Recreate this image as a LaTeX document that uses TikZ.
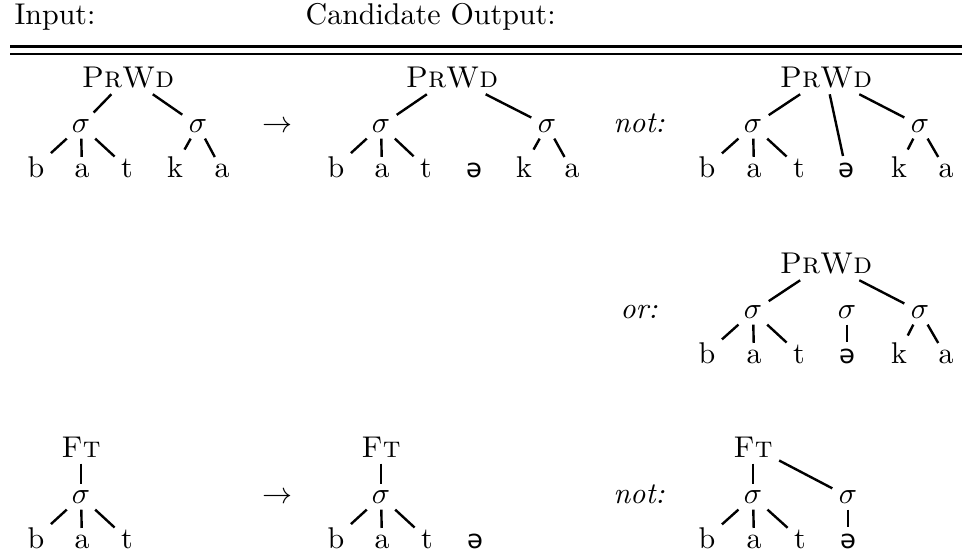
\documentclass[tikz,border=0pt]{standalone}
\usepackage{fontspec}
\newfontfamily\schwafont{DejaVu Sans}[Scale=0.86]
\newcommand{\schwa}{{\schwafont ə}}
\tikzset{
  cat/.style={anchor=base, inner sep=2pt},
  syl/.style={anchor=base, inner sep=2pt},
  seg/.style={anchor=base, inner sep=2pt},
  gloss/.style={anchor=base, inner sep=0pt, font=\itshape},
  hd/.style={anchor=base west, inner sep=0pt},
  branch/.style={line width=0.8pt},
  rulethick/.style={line width=1pt},
  rulethin/.style={line width=0.7pt},
}

\begin{document}
\begin{tikzpicture}[x=0.33333pt, y=-0.33333pt]
\useasboundingbox (0,0) rectangle (962,555);
% header
\node[hd] (hin) at (14,24) {Input:};
\node[hd] (hout) at (305,24) {Candidate Output:};
\draw[rulethick] (10,46.7) -- (962,46.7);
\draw[rulethin] (10,54.2) -- (962,54.2);
% row 1: input
\node[cat] (inwd) at (128,87) {\textsc{PrWd}};
\node[syl] (ins1) at (81,132) {$\sigma$};
\node[syl] (ins2) at (198,132) {$\sigma$};
\node[seg] (inb) at (36,177) {b};
\node[seg] (ina) at (82,177) {a};
\node[seg] (int) at (127,177) {t};
\node[seg] (ink) at (175,177) {k};
\node[seg] (ina2) at (222,177) {a};
\draw[branch] (inwd) -- (ins1);
\draw[branch] (inwd) -- (ins2);
\foreach \c in {inb,ina,int}{ \draw[branch] (ins1) -- (\c); }
\foreach \c in {ink,ina2}{ \draw[branch] (ins2) -- (\c); }
\node[syl] (arA) at (277,132) {$\rightarrow$};
% row 1: candidate
\node[cat] (outwd) at (452,87) {\textsc{PrWd}};
\node[syl] (outs1) at (381,132) {$\sigma$};
\node[syl] (outs2) at (547,132) {$\sigma$};
\node[seg] (outb) at (336,177) {b};
\node[seg] (outa) at (382,177) {a};
\node[seg] (outt) at (426,177) {t};
\node[seg] (oute) at (474,177) {\schwa};
\node[seg] (outk) at (524,177) {k};
\node[seg] (outa2) at (572,177) {a};
\draw[branch] (outwd) -- (outs1);
\draw[branch] (outwd) -- (outs2);
\foreach \c in {outb,outa,outt}{ \draw[branch] (outs1) -- (\c); }
\foreach \c in {outk,outa2}{ \draw[branch] (outs2) -- (\c); }
% row 1: not
\node[gloss] (notA) at (639,132) {not:};
\node[cat] (notwd) at (826,87) {\textsc{PrWd}};
\node[syl] (nots1) at (753,132) {$\sigma$};
\node[syl] (nots2) at (920,132) {$\sigma$};
\node[seg] (notb) at (707,177) {b};
\node[seg] (nota) at (754,177) {a};
\node[seg] (nott) at (799,177) {t};
\node[seg] (note) at (846,177) {\schwa};
\node[seg] (notk) at (899,177) {k};
\node[seg] (nota2) at (946,177) {a};
\draw[branch] (notwd) -- (nots1);
\draw[branch] (notwd) -- (note);
\draw[branch] (notwd) -- (nots2);
\foreach \c in {notb,nota,nott}{ \draw[branch] (nots1) -- (\c); }
\foreach \c in {notk,nota2}{ \draw[branch] (nots2) -- (\c); }
% row 2: or
\node[gloss] (orB) at (639,318) {or:};
\node[cat] (orwd) at (826,273) {\textsc{PrWd}};
\node[syl] (ors1) at (753,318) {$\sigma$};
\node[syl] (ors2) at (847,318) {$\sigma$};
\node[syl] (ors3) at (920,318) {$\sigma$};
\node[seg] (orb) at (707,363) {b};
\node[seg] (ora) at (754,363) {a};
\node[seg] (ort) at (799,363) {t};
\node[seg] (ore) at (847,363) {\schwa};
\node[seg] (ork) at (899,363) {k};
\node[seg] (ora2) at (946,363) {a};
\draw[branch] (orwd) -- (ors1);
\draw[branch] (orwd) -- (ors3);
\foreach \c in {orb,ora,ort}{ \draw[branch] (ors1) -- (\c); }
\draw[branch] (ors2) -- (ore);
\foreach \c in {ork,ora2}{ \draw[branch] (ors3) -- (\c); }
% row 3: input
\node[cat] (ftinft) at (81,457) {\textsc{Ft}};
\node[syl] (ftins) at (81,503) {$\sigma$};
\node[seg] (ftinb) at (36,548) {b};
\node[seg] (ftina) at (82,548) {a};
\node[seg] (ftint) at (127,548) {t};
\draw[branch] (ftinft) -- (ftins);
\foreach \c in {ftinb,ftina,ftint}{ \draw[branch] (ftins) -- (\c); }
\node[syl] (arC) at (277,503) {$\rightarrow$};
% row 3: candidate
\node[cat] (ftoutft) at (381,457) {\textsc{Ft}};
\node[syl] (ftouts) at (381,503) {$\sigma$};
\node[seg] (ftoutb) at (336,548) {b};
\node[seg] (ftouta) at (382,548) {a};
\node[seg] (ftoutt) at (427,548) {t};
\node[seg] (ftoute) at (475,548) {\schwa};
\draw[branch] (ftoutft) -- (ftouts);
\foreach \c in {ftoutb,ftouta,ftoutt}{ \draw[branch] (ftouts) -- (\c); }
% row 3: not
\node[gloss] (notC) at (639,503) {not:};
\node[cat] (ftnotft) at (753,457) {\textsc{Ft}};
\node[syl] (ftnots1) at (753,503) {$\sigma$};
\node[syl] (ftnots2) at (848,503) {$\sigma$};
\node[seg] (ftnotb) at (707,548) {b};
\node[seg] (ftnota) at (754,548) {a};
\node[seg] (ftnott) at (800,548) {t};
\node[seg] (ftnote) at (848,548) {\schwa};
\draw[branch] (ftnotft) -- (ftnots1);
\draw[branch] (ftnotft) -- (ftnots2);
\foreach \c in {ftnotb,ftnota,ftnott}{ \draw[branch] (ftnots1) -- (\c); }
\draw[branch] (ftnots2) -- (ftnote);
\end{tikzpicture}
\end{document}
